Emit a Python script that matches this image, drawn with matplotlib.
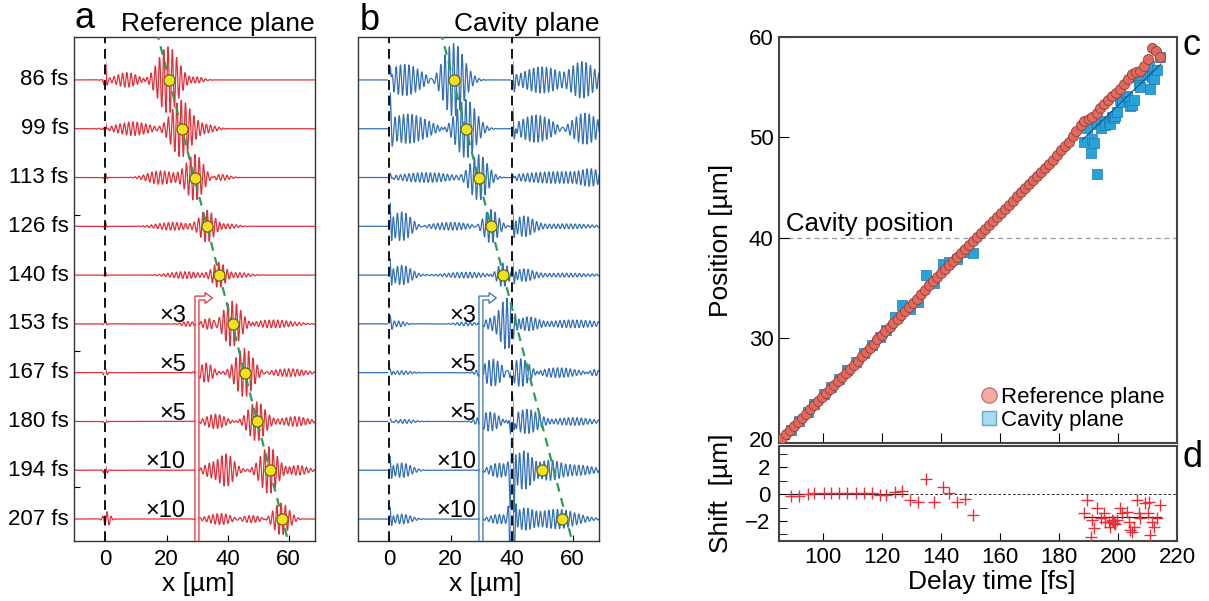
import numpy as np
import matplotlib
matplotlib.use("Agg")
import matplotlib.pyplot as plt
from matplotlib.lines import Line2D
from matplotlib.patches import Polygon
from matplotlib.transforms import blended_transform_factory

plt.rcParams['font.family'] = ['Liberation Sans', 'DejaVu Sans']

# ---------------- panels a / b : wave traces ----------------
delays = ["86 fs", "99 fs", "113 fs", "126 fs", "140 fs",
          "153 fs", "167 fs", "180 fs", "194 fs", "207 fs"]
gains = ["", "", "", "", "", "×3", "×5", "×5", "×10", "×10"]

# fitted packet centres (yellow dots), x in um
ref_peak = [20.8, 24.9, 29.3, 33.3, 37.1, 41.6, 45.7, 49.5, 53.9, 57.9]
cav_peak_idx = [0, 1, 2, 3, 4, 8, 9]
cav_peak = [21.0, 25.0, 29.2, 33.1, 37.1, 50.0, 56.5]

# wave packets: (centre, amplitude, width[, lo, hi])
ref_parts = [
    [(0, 0.38, 0.35), (7, 0.15, 3.5), (20.5, 0.68, 3.2), (30, 0.06, 2)],
    [(0, 0.15, 0.35), (9, 0.14, 5), (24.8, 0.58, 3.2), (33, 0.08, 3)],
    [(0, 0.10, 0.35), (18, 0.14, 4), (29.3, 0.47, 2.8), (37, 0.07, 3)],
    [(0, 0.08, 0.35), (22, 0.08, 5), (33.3, 0.32, 2.3), (40, 0.05, 3)],
    [(0, 0.07, 0.35), (26, 0.07, 5), (37.1, 0.25, 2.0), (44, 0.05, 3)],
    [(0, 0.06, 0.4), (27, 0.05, 2), (34, 0.12, 2), (41.5, 0.47, 2.8), (55, 0.08, 6)],
    [(0, 0.08, 0.6), (33, 0.2, 2.0), (45.5, 0.5, 2.8), (60, 0.08, 5)],
    [(0, 0.04, 0.5), (36, 0.15, 3), (49.5, 0.4, 2.7), (62, 0.1, 4)],
    [(0, 0.10, 0.6), (34, 0.12, 2), (39.5, 0.33, 2.5), (53.5, 0.48, 2.7), (63, 0.1, 3)],
    [(0.5, 0.15, 1.0), (38, 0.12, 4), (47, 0.08, 4), (57.5, 0.33, 2.5)],
]
cav_parts = [
    [(0.2, 0.45, 0.4, 0, 40), (5, 0.32, 5, 0, 40), (21, 0.75, 3.3, 0, 40),
     (40.3, 0.35, 0.5, 40, 99), (50, 0.27, 6, 40, 99), (63, 0.38, 4, 40, 99)],
    [(0.2, 0.6, 0.5, 0, 40), (6, 0.3, 6, 0, 40), (25, 0.6, 3.2, 0, 40),
     (40.3, 0.55, 0.6, 40, 99), (48, 0.28, 5, 40, 99), (64, 0.32, 4, 40, 99)],
    [(0.2, 0.12, 0.5, 0, 40), (12, 0.1, 8, 0, 40), (29.2, 0.47, 2.8, 0, 40),
     (40.3, 0.12, 0.5, 40, 99), (55, 0.12, 12, 40, 99), (66, 0.12, 3, 40, 99)],
    [(0.2, 0.5, 0.5, 0, 40), (4, 0.3, 3, 0, 40), (20, 0.08, 6, 0, 40), (33.2, 0.35, 2.3, 0, 40),
     (40.3, 0.45, 0.6, 40, 99), (44, 0.2, 3, 40, 99), (58, 0.05, 8, 40, 99)],
    [(0.2, 0.35, 0.5, 0, 40), (4, 0.2, 3, 0, 40), (25, 0.06, 6, 0, 40), (37.1, 0.25, 1.8, 0, 40),
     (40.3, 0.35, 0.6, 40, 99), (44, 0.12, 3, 40, 99), (58, 0.04, 8, 40, 99)],
    [(0.2, 0.15, 0.6, 0, 99), (3, 0.06, 2, 0, 99), (25, 0.04, 3, 0, 99),
     (33, 0.1, 2), (38.5, 0.55, 2.2), (45, 0.15, 4), (60, 0.08, 8)],
    [(0.2, 0.08, 0.5, 0, 99), (4, 0.04, 3, 0, 99),
     (34, 0.28, 3), (43, 0.3, 3), (55, 0.1, 6), (67, 0.08, 1.5)],
    [(0.2, 0.07, 0.5, 0, 99), (5, 0.04, 3, 0, 99),
     (33, 0.2, 3), (40.2, 0.7, 0.5), (45, 0.25, 4), (60, 0.08, 6)],
    [(0.2, 0.3, 0.5, 0, 99), (4, 0.15, 3, 0, 99),
     (36, 0.15, 3), (40.2, 1.4, 0.6), (44, 0.4, 3), (52, 0.2, 4), (62, 0.1, 5)],
    [(0.2, 0.25, 0.5, 0, 99), (4, 0.1, 3, 0, 99),
     (36, 0.1, 3), (40.2, 1.5, 0.7), (44, 0.2, 3), (55, 0.2, 6)],
]
PERIOD = 1.4
GAP = (29.3, 30.8)
cavity_x = 40.0

# ---------------- panels c / d ----------------
red_t = [86.0, 87.4, 88.7, 90.1, 91.4, 92.8, 94.1, 95.5, 96.8, 98.2, 99.5, 100.9,
         102.2, 103.6, 104.9, 106.3, 107.6, 109.0, 110.3, 111.7, 113.0, 114.4, 115.7,
         117.1, 118.4, 119.8, 121.1, 122.5, 123.8, 125.2, 126.5, 127.9, 129.2, 130.6,
         131.9, 133.3, 134.6, 136.0, 137.3, 138.7, 140.0, 141.4, 142.7, 144.1, 145.4,
         146.8, 148.1, 149.5, 150.8, 152.2, 153.5, 154.9, 156.2, 157.6, 158.9, 160.3,
         161.6, 163.0, 164.3, 165.7, 167.0, 168.4, 169.7, 171.1, 172.4, 173.8, 175.1,
         176.5, 177.8, 179.2, 180.5, 181.9, 183.2, 184.6, 185.9, 187.3, 188.6, 190.0,
         191.3, 192.7, 194.0, 195.4, 196.7, 198.1, 199.4, 200.8, 202.1, 203.5, 204.8,
         206.2, 207.5, 208.9, 210.2, 211.6, 212.9, 214.3]
red_pos = [20.1, 20.5, 20.9, 21.3, 21.7, 22.1, 22.5, 23.0, 23.4, 23.8, 24.2, 24.6,
           25.0, 25.4, 25.8, 26.2, 26.6, 27.0, 27.4, 27.8, 28.3, 28.7, 29.1, 29.5,
           29.9, 30.3, 30.7, 31.1, 31.5, 31.9, 32.3, 32.7, 33.1, 33.5, 33.9, 34.4,
           34.8, 35.3, 35.7, 36.1, 36.5, 36.9, 37.3, 37.7, 38.1, 38.5, 38.9, 39.3,
           39.7, 40.1, 40.5, 40.9, 41.3, 41.7, 42.1, 42.5, 42.9, 43.3, 43.7, 44.2,
           44.6, 45.0, 45.4, 45.8, 46.2, 46.6, 47.0, 47.4, 47.8, 48.3, 48.8, 49.2,
           49.6, 50.1, 50.6, 51.2, 51.6, 51.8, 52.0, 52.4, 52.9, 53.3, 53.7, 54.1,
           54.4, 54.8, 55.3, 55.8, 56.3, 56.5, 56.6, 57.1, 57.8, 58.9, 58.6, 58.0]

cav_t = [89.1, 91.9, 94.7, 97.0, 100.1, 102.6, 105.4, 108.2, 111.0, 113.8, 116.4,
         119.2, 121.4, 124.2, 126.8, 129.4, 132.2, 135.0, 137.7, 140.5, 142.7, 145.5,
         148.1, 150.8,
         188.5, 189.6, 190.7, 191.2, 191.8, 192.9, 193.0, 194.1, 195.2, 195.7, 196.9,
         197.4, 197.9, 198.2, 198.6, 199.1, 199.7, 200.8, 201.3, 203.0, 203.6, 204.1,
         204.7, 205.3, 206.4, 207.0, 207.5, 209.2, 210.0, 210.4, 211.0, 211.5, 212.1,
         213.3, 214.4]
cav_pos = [20.9, 21.8, 22.7, 23.5, 24.5, 25.2, 26.0, 26.9, 27.7, 28.6, 29.4,
           30.1, 30.8, 32.1, 33.3, 32.9, 33.6, 36.3, 35.5, 37.4, 37.6, 37.9,
           38.6, 38.5,
           49.6, 50.9, 48.5, 49.9, 49.5, 51.3, 46.4, 50.9, 51.6, 51.2, 51.5,
           51.3, 52.0, 52.0, 51.9, 52.1, 52.5, 53.7, 53.5, 54.1, 53.6, 53.1,
           53.2, 53.7, 56.0, 55.2, 55.0, 56.6, 56.2, 57.1, 54.8, 56.0, 55.8,
           56.7, 58.0]
cav_fit_t = [188.0, 214.5]
cav_fit_pos = [49.8, 57.3]

shift_t = [89.1, 91.9, 94.7, 97.0, 100.1, 102.6, 105.4, 108.2, 111.0, 113.8, 116.4,
           119.2, 121.4, 124.2, 126.8, 129.4, 132.2, 135.0, 137.7, 140.5, 142.7, 145.5,
           148.1, 150.8,
           188.5, 189.6, 190.7, 191.2, 191.8, 192.9, 194.1, 195.2, 195.7, 196.9,
           197.4, 197.9, 198.2, 198.6, 199.1, 199.7, 200.8, 201.3, 203.0, 203.6, 204.1,
           204.7, 205.3, 206.4, 207.0, 207.5, 209.2, 210.0, 210.4, 211.0, 211.5, 212.1,
           213.3, 214.4]
shift_val = [-0.1, -0.1, 0.0, 0.1, 0.1, 0.05, 0.05, 0.05, 0.05, 0.05, 0.1,
             -0.05, -0.05, 0.15, 0.25, -0.4, -0.55, 1.1, -0.55, 0.5, 0.1, -0.55,
             -0.35, -1.55,
             -1.43, -0.44, -3.2, -1.93, -2.54, -1.06, -1.8, -1.43, -2.05, -2.05,
             -2.42, -1.9, -2.0, -2.17, -2.2, -1.93, -1.06, -1.43, -1.31, -2.05, -2.67,
             -2.79, -2.42, -0.44, -1.43, -1.8, -0.69, -1.43, -0.57, -3.04, -2.05, -2.42,
             -1.8, -0.81]
shift_fit_t = [[88.0, 128.0], [188.5, 214.5]]
shift_fit_val = [[0.03, 0.03], [-1.7, -1.7]]

# ---------------- drawing ----------------
W, H = 1209, 601
RED = '#e2303a'
BLUE = '#3470b6'
GREEN = '#2a9d55'
XG = np.linspace(-11, 69, 3000)


def synth(parts):
    y = np.zeros_like(XG)
    for p in parts:
        x0, amp, sig = p[0], p[1], p[2]
        lo, hi = (p[3], p[4]) if len(p) == 5 else (-np.inf, np.inf)
        w = amp * np.exp(-0.5 * ((XG - x0) / sig) ** 2) * np.cos(2 * np.pi * (XG - x0) / PERIOD)
        w[(XG < lo) | (XG > hi)] = 0.0
        y += w
    return y


def gain_arrow(ax, color):
    x0, x1, xh, xt = 29.3, 30.6, 32.6, 35.0
    yb, h, hh, ybot = -4.47, 0.04, 0.11, -9.8
    pts = [(x0, ybot), (x0, yb + h), (xh, yb + h), (xh, yb + hh), (xt, yb),
           (xh, yb - hh), (xh, yb - h), (x1, yb - h), (x1, ybot)]
    ax.add_patch(Polygon(pts, closed=False, fill=False, edgecolor=color, lw=0.9, zorder=4))


fig = plt.figure(figsize=(W / 100, H / 100), dpi=100)
ax_a = fig.add_axes([74 / W, (H - 541) / H, 241 / W, 504 / H])
ax_b = fig.add_axes([358 / W, (H - 541) / H, 241 / W, 504 / H])
ax_c = fig.add_axes([779 / W, (H - 443) / H, 398 / W, 406 / H])
ax_d = fig.add_axes([779 / W, (H - 541) / H, 398 / W, 95 / H])

# green fit through the reference-plane packet centres
k, c0 = np.polyfit(-np.arange(len(ref_peak)), ref_peak, 1)
yy = np.array([1.0, -10.0])

for ax, parts, color in [(ax_a, ref_parts, RED), (ax_b, cav_parts, BLUE)]:
    for i, p in enumerate(parts):
        y = synth(p) - i
        if gains[i]:
            y[(XG > GAP[0]) & (XG < GAP[1])] = np.nan
            ax.text(26.3 if ax is ax_a else 28.3, -i + 0.04, gains[i], ha='right',
                    va='baseline', fontsize=17, zorder=6)
        ax.plot(XG, y, color=color, lw=0.9, zorder=2)
    ax.plot(k * yy + c0, yy, color=GREEN, lw=1.6, ls=(0, (4, 3)), zorder=4)
    ax.axvline(0, color='#111111', lw=1.4, ls=(0, (5, 3)), gapcolor='white', zorder=3)
    gain_arrow(ax, color)
    ax.set_xlim(-10.3, 68.6)
    ax.set_ylim(-9.45, 0.88)
    ax.set_xticks([0, 20, 40, 60])
    ax.tick_params(axis='x', direction='in', length=4, labelsize=16, pad=6)
    ax.set_xlabel('x [µm]', fontsize=19)
    ax.xaxis.set_label_coords(0.515 if ax is ax_a else 0.53, -0.062)
    for s in ax.spines.values():
        s.set_color('#333333')
        s.set_linewidth(1.0)

ax_b.axvline(cavity_x, color='#111111', lw=1.4, ls=(0, (5, 3)), gapcolor='white', zorder=3)
ax_a.plot(ref_peak, -np.arange(len(ref_peak)), 'o', ms=8, mfc='#f2e21c', mec='#5c5a10',
          mew=0.8, zorder=5)
ax_b.plot(cav_peak, -np.array(cav_peak_idx), 'o', ms=8, mfc='#f2e21c', mec='#5c5a10',
          mew=0.8, zorder=5)

ax_a.set_yticks([-2.77, -5.55, -8.34])
ax_a.tick_params(axis='y', direction='in', length=4, labelleft=False)
ax_b.set_yticks([])
trans = blended_transform_factory(ax_a.transAxes, ax_a.transData)
for i, lab in enumerate(delays):
    ax_a.text(-0.022, -i, lab, transform=trans, ha='right', va='center', fontsize=16)

fig.text(75 / W, 1 - 28 / H, 'a', fontsize=26, va='baseline')
fig.text(315 / W, 1 - 31 / H, 'Reference plane', fontsize=19, ha='right', va='baseline')
fig.text(360 / W, 1 - 30 / H, 'b', fontsize=26, va='baseline')
fig.text(599 / W, 1 - 31 / H, 'Cavity plane', fontsize=19, ha='right', va='baseline')
fig.text(1183 / W, 1 - 55 / H, 'c', fontsize=26, va='baseline')
fig.text(1183 / W, 1 - 467 / H, 'd', fontsize=26, va='baseline')

# panel c
ax_c.axhline(cavity_x, color='#999999', lw=0.9, ls=(0, (4, 3)), zorder=1)
ax_c.text(87.5, 40.7, 'Cavity position', fontsize=18.5, va='baseline')
ax_c.scatter(cav_t, cav_pos, marker='s', s=42, c='#27a2da', edgecolors='#1c79ad',
             linewidths=0.5, zorder=2)
ax_c.plot(cav_fit_t, cav_fit_pos, color='#1b4f8f', lw=0.8, zorder=4)
ax_c.scatter(red_t, red_pos, marker='o', s=52, c='#e3695e', edgecolors='#8e3f3a',
             linewidths=0.6, zorder=3)
ax_c.set_xlim(85, 220)
ax_c.set_ylim(19.6, 60)
ax_c.set_yticks([20, 30, 40, 50, 60])
ax_c.set_xticks([100, 120, 140, 160, 180, 200, 220])
ax_c.tick_params(axis='x', direction='in', length=7, labelbottom=False)
ax_c.tick_params(axis='y', direction='in', length=7, labelsize=16, pad=4)
ax_c.set_ylabel('Position [µm]', fontsize=19)
ax_c.yaxis.set_label_coords(-0.115, 0.5)
handles = [Line2D([], [], marker='o', ls='none', ms=11, mfc='#f4aaa5', mec='#c07a75'),
           Line2D([], [], marker='s', ls='none', ms=10, mfc='#a9daf2', mec='#6aa6c8')]
ax_c.legend(handles, ['Reference plane', 'Cavity plane'], loc='lower right',
            bbox_to_anchor=(1.0, 0.0), frameon=False, fontsize=16, handlelength=0.8,
            handletextpad=0.15, labelspacing=0.1, borderaxespad=0.15)

# panel d
ax_d.axhline(0, color='#333333', lw=0.7, ls=(0, (3, 2)), zorder=1)
for ft, fv in zip(shift_fit_t, shift_fit_val):
    ax_d.plot(ft, fv, color='#222222', lw=0.9, zorder=2)
ax_d.plot(shift_t, shift_val, '+', ms=9, mew=1.0, color='#e8303a', zorder=3)
ax_d.set_xlim(85, 220)
ax_d.set_ylim(-3.5, 3.6)
ax_d.set_xticks([100, 120, 140, 160, 180, 200, 220])
ax_d.set_yticks([-2, 0, 2])
ax_d.set_yticks([-3, -1, 1, 3], minor=True)
ax_d.tick_params(axis='both', which='both', direction='in', length=6, labelsize=16)
ax_d.tick_params(axis='x', pad=4)
ax_d.tick_params(axis='y', pad=6)
ax_d.set_xlabel('Delay time [fs]', fontsize=19)
ax_d.xaxis.set_label_coords(0.535, -0.3)
ax_d.set_ylabel('Shift  [µm]', fontsize=19)
ax_d.yaxis.set_label_coords(-0.115, 0.5)

for ax in (ax_c, ax_d):
    for s in ax.spines.values():
        s.set_color('#444444')
        s.set_linewidth(1.5)

fig.savefig('out.png', dpi=100)
